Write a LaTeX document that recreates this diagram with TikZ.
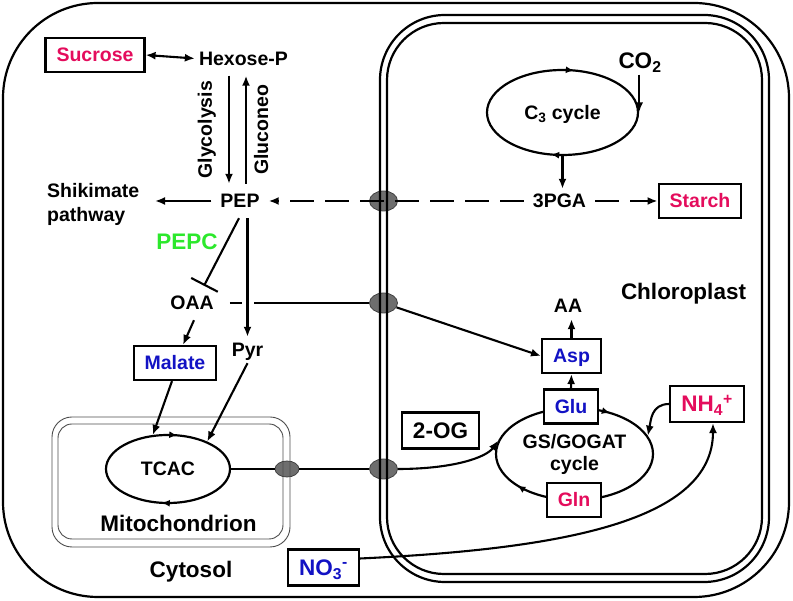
\documentclass[tikz,border=0pt]{standalone}
\usepackage{fontspec}
\setmainfont{Liberation Sans}
\usetikzlibrary{arrows.meta,shapes.geometric,decorations.markings}
\definecolor{rosered}{RGB}{228,12,92}
\definecolor{darkblue}{RGB}{18,18,196}
\definecolor{brightgreen}{RGB}{44,232,44}

\begin{document}
\begin{tikzpicture}[%
      x=1pt, y=1pt,
      txt/.style={font=\fontsize{19.5}{24}\selectfont\bfseries},
      lbl/.style={txt, text height=14pt, text depth=0pt, inner xsep=9pt, inner ysep=10pt},
      big/.style={lbl, font=\fontsize{22.5}{26}\selectfont\bfseries, text height=16pt},
      box/.style={lbl, draw, fill=white, line width=2.2pt, inner xsep=11pt},
      bigbox/.style={big, draw, fill=white, line width=2.2pt, inner xsep=11pt},
      cyc/.style={ellipse, draw, line width=2.2pt, inner sep=0pt, postaction={decorate}},
      turn/.style 2 args={decoration={markings,
          mark=at position #1 with {\arrowreversed{Latex[length=8pt,width=7pt]}},
          mark=at position #2 with {\arrowreversed{Latex[length=8pt,width=7pt]}}}},
      trans/.style={ellipse, draw=black!75, fill=black!57, line width=0.8pt,
          minimum width=28pt, minimum height=20pt, inner sep=0pt},
      memb/.style={line width=2.2pt},
      mito/.style={line width=0.9pt, draw=black!70},
      lnk/.style={line width=2.1pt},
      arr/.style={line width=2.1pt, -{Latex[length=10pt,width=8pt]}},
      dbl/.style={line width=2.1pt, {Latex[length=10pt,width=8pt]}-{Latex[length=10pt,width=8pt]}},
      inh/.style={line width=2.1pt, -{Bar[width=30pt,line width=2.1pt]}},
      dsh/.style={dash pattern=on 24pt off 11pt},
      ]
      \useasboundingbox (0,0) rectangle (793,601);

      % carriers in the membranes
      \node[trans] (t1) at (383.5,400) {};
      \node[trans] (t2) at (383.5,298) {};
      \node[trans] (t4) at (383.5,132) {};
      \node[trans, minimum width=24pt, minimum height=16pt] (t3) at (287,132) {};

      % cell, chloroplast, mitochondrion
      \draw[memb, rounded corners=95pt] (3,4) rectangle (789,598);
      \draw[memb, rounded corners=65pt] (380,19) rectangle (769,586);
      \draw[memb, rounded corners=57pt] (387,27) rectangle (762,578);
      \draw[mito, rounded corners=20pt] (52,54) rectangle (290,184);
      \draw[mito, rounded corners=14pt] (58,62) rectangle (283,177);

      % cycles
      \node[cyc, lbl, inner sep=0pt, turn={0.22}{0.72}, minimum width=151pt, minimum height=85pt] (c3) at (562.5,488.5) {C\textsubscript{3} cycle};
      \node[cyc, lbl, inner sep=0pt, turn={0.22}{0.73}, minimum width=124pt, minimum height=68pt] (tcac) at (168,132) {TCAC};
      \node[cyc, txt, align=center, font=\fontsize{19.5}{22}\selectfont\bfseries, turn={0.16}{0.6}, minimum width=157pt, minimum height=92pt] (gs) at (574.5,147) {GS/GOGAT\\cycle};

      % cytosol
      \node[box, text=rosered] (suc) at (95,546) {Sucrose};
      \node[lbl, inner xsep=4pt] (hex) at (243.5,542.5) {Hexose-P};
      \node[lbl] (pep) at (240,400) {PEP};
      \node[txt, align=left, anchor=west, inner sep=0pt] (shik) at (47,396.5) {Shikimate\\pathway};
      \coordinate (shikend) at (155,400);
      \node[big, text=brightgreen] (pepc) at (187,359.5) {PEPC};
      \node[lbl, inner xsep=16pt] (oaa) at (192,298) {OAA};
      \node[lbl, inner ysep=6pt] (pyr) at (247.5,251) {Pyr};
      \node[box, text=darkblue] (mal) at (175,238) {Malate};
      \node[big] (mitolbl) at (178.5,77) {Mitochondrion};
      \node[big] (cyto) at (191,31.5) {Cytosol};
      \node[bigbox, text=darkblue] (no3) at (323.5,33.5) {NO\textsubscript{3}\textsuperscript{-}};

      % chloroplast
      \node[big, inner ysep=6pt] (co2) at (640,540.5) {CO\textsubscript{2}};
      \node[lbl, inner ysep=5pt] (pga) at (559.5,400) {3PGA};
      \node[box, text=rosered] (starch) at (700,400) {Starch};
      \node[big] (chl) at (683.5,309) {Chloroplast};
      \node[lbl, inner ysep=6pt] (aa) at (568,295) {AA};
      \node[box, text=darkblue] (asp) at (571.5,245) {Asp};
      \node[box, text=darkblue] (glu) at (571,194.5) {Glu};
      \node[box, text=rosered] (gln) at (574,101) {Gln};
      \node[bigbox, text=rosered] (nh4) at (707,197) {NH\textsubscript{4}\textsuperscript{+}};
      \node[bigbox] (og) at (440.5,170.5) {2-OG};

      % connectors
      \draw[dbl] (suc.east) -- (hex.west);
      \draw[arr] ([xshift=-14.5pt]hex.south) -- ([xshift=-11pt]pep.north)
            node[midway, above, rotate=90, lbl, inner ysep=16pt] (glyc) {Glycolysis};
      \draw[arr] ([xshift=6pt]pep.north) -- ([xshift=2.5pt]hex.south)
            node[midway, below, rotate=90, lbl, inner ysep=7pt] (gluc) {Gluconeo};
      \draw[arr] (pep.west) -- (shikend);
      \draw[arr, dsh] (pga.west) -- (pep.east);
      \draw[arr, dsh] (pga.east) -- (starch.west);
      \draw[arr] (c3.east |- co2.south) -- (c3.east);
      \draw[arr] (c3.south) -- (c3.south |- pga.north);
      \draw[inh] ([xshift=-1pt]pep.south) -- ([xshift=12pt]oaa.north);
      \draw[lnk] (oaa.east) -- (t2);
      \draw[arr, preaction={draw=white, line width=12pt, -}] (pyr.north |- pep.south) -- (pyr.north);
      \draw[arr] (t2) -- (asp.west);
      \draw[arr] (asp.north) -- (asp.north |- aa.south);
      \draw[arr] (glu.north) -- (asp.south);
      \draw[arr] ([xshift=2pt]oaa.south) -- ([xshift=8pt]mal.north);
      \draw[arr] ([xshift=-3pt]mal.south) -- (tcac.114);
      \draw[arr] (pyr.south) -- (tcac.35);
      \draw[lnk] (tcac.east) -- (t3);
      \draw[lnk] (t3) -- (t4);
      \draw[arr] (t4.east) .. controls +(55,0) and +(-12,-17) .. (gs.170);
      \draw[arr] (nh4.west) .. controls +(-18,0) and +(3,15) .. (gs.14);
      \draw[arr] ([yshift=9pt]no3.east) .. controls +(203,9.5) and +(0,-98) .. ([xshift=6pt]nh4.south);
\end{tikzpicture}
\end{document}
